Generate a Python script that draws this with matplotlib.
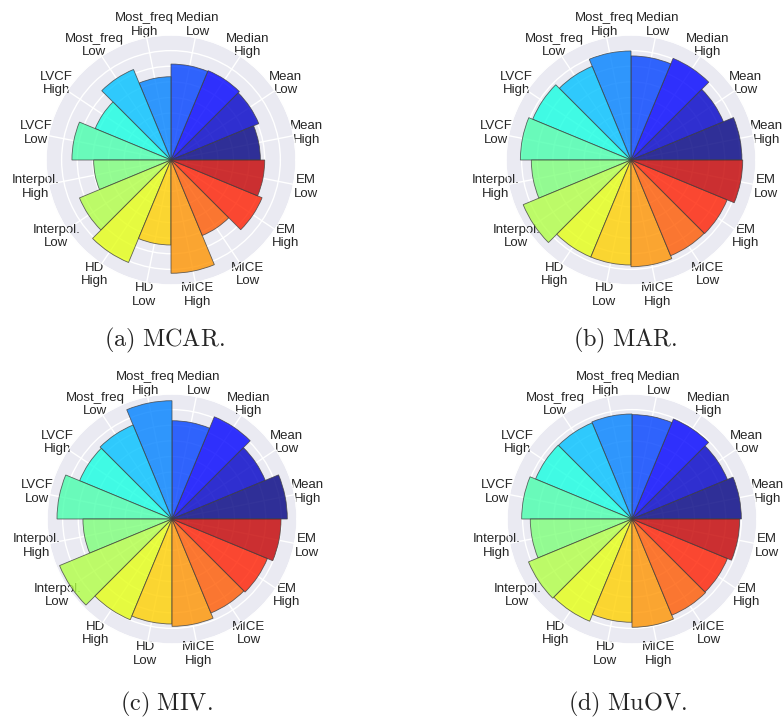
import numpy as np
import matplotlib
matplotlib.use("Agg")
import matplotlib.pyplot as plt
import seaborn as sns

# Imputation method / missing-rate combinations, counter-clockwise from 0 rad
labels = ["Mean\nHigh", "Mean\nLow", "Median\nHigh", "Median\nLow",
          "Most_freq\nHigh", "Most_freq\nLow", "LVCF\nHigh", "LVCF\nLow",
          "Interpol.\nHigh", "Interpol.\nLow", "HD\nHigh", "HD\nLow",
          "MICE\nHigh", "MICE\nLow", "EM\nHigh", "EM\nLow"]

mcar = [0.572, 0.608, 0.619, 0.614, 0.533, 0.627, 0.525, 0.634,
        0.495, 0.634, 0.710, 0.544, 0.725, 0.523, 0.631, 0.600]
mar = [0.710, 0.640, 0.704, 0.666, 0.698, 0.649, 0.681, 0.708,
       0.638, 0.747, 0.672, 0.672, 0.683, 0.663, 0.666, 0.715]
miv = [0.738, 0.646, 0.708, 0.629, 0.757, 0.651, 0.640, 0.736,
       0.570, 0.779, 0.698, 0.672, 0.687, 0.651, 0.661, 0.698]
muov = [0.700, 0.661, 0.693, 0.668, 0.672, 0.666, 0.668, 0.706,
        0.651, 0.717, 0.708, 0.661, 0.693, 0.666, 0.661, 0.689]

panels = [("(a)\\ MCAR.", mcar), ("(b)\\ MAR.", mar),
          ("(c)\\ MIV.", miv), ("(d)\\ MuOV.", muov)]

sns.set_style("darkgrid")
plt.rcParams["font.family"] = ["Liberation Sans", "DejaVu Sans"]
plt.rcParams["mathtext.fontset"] = "cm"

W, H = 784, 722
fig = plt.figure(figsize=(W / 100, H / 100), dpi=100)

# panel centres (px) and caption centres (px)
centres = [(171, 160), (631, 160), (172, 519), (632, 519)]
captions = [(164, 340), (625, 340), (166, 704), (627, 704)]
R = 125

n = len(labels)
width = 2 * np.pi / n
theta = np.arange(n) * width
colors = plt.cm.jet(np.arange(n) / n)

for (title, vals), (cx, cy), (tx, ty) in zip(panels, centres, captions):
    ax = fig.add_axes([(cx - R) / W, (H - cy - R) / H, 2 * R / W, 2 * R / H],
                      projection="polar")
    ax.bar(theta, vals, width=width, align="edge", color=colors,
           alpha=0.8, edgecolor="0.25", linewidth=0.6)
    ax.set_ylim(0, 0.8)
    ax.set_yticks(np.arange(0.1, 0.81, 0.1))
    ax.set_yticklabels([])
    ax.set_xticks(theta + width / 2)
    ax.set_xticklabels(labels, fontsize=9.5, color=".15", linespacing=1.2)
    ax.tick_params(axis="x", pad=2.2, size=0)
    ax.grid(True, color="white", linewidth=1.0)
    fig.text(tx / W, 1 - ty / H, "$\\mathrm{" + title + "}$",
             ha="center", va="center", fontsize=17.5)

fig.savefig("out.png", dpi=100)
